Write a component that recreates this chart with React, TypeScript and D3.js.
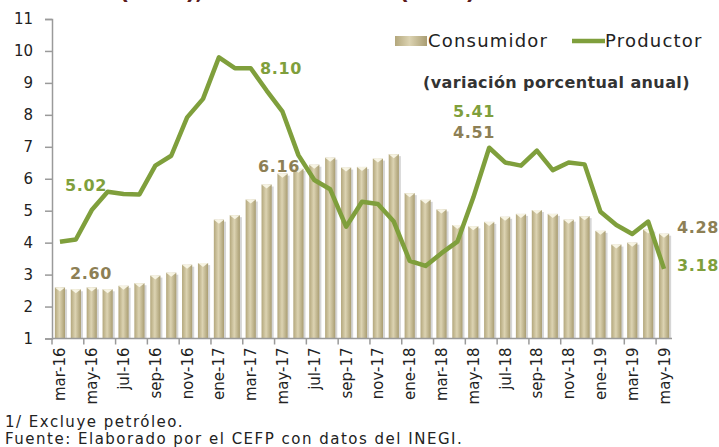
import React, { useEffect, useRef } from "react";
import * as d3 from "d3";

const months = [
  "mar-16", "abr-16", "may-16", "jun-16", "jul-16", "ago-16", "sep-16", "oct-16", "nov-16", "dic-16",
  "ene-17", "feb-17", "mar-17", "abr-17", "may-17", "jun-17", "jul-17", "ago-17", "sep-17", "oct-17",
  "nov-17", "dic-17", "ene-18", "feb-18", "mar-18", "abr-18", "may-18", "jun-18", "jul-18", "ago-18",
  "sep-18", "oct-18", "nov-18", "dic-18", "ene-19", "feb-19", "mar-19", "abr-19", "may-19",
];

const consumidor = [
  2.60, 2.54, 2.60, 2.54, 2.65, 2.73, 2.97, 3.06, 3.31, 3.36,
  4.72, 4.86, 5.35, 5.82, 6.16, 6.31, 6.44, 6.66, 6.35, 6.37,
  6.63, 6.77, 5.55, 5.34, 5.04, 4.55, 4.51, 4.65, 4.81, 4.90,
  5.02, 4.90, 4.72, 4.83, 4.37, 3.94, 4.00, 4.41, 4.28,
];

const productor = [
  4.03, 4.10, 5.02, 5.59, 5.52, 5.51, 6.41, 6.72, 7.92, 8.50,
  9.80, 9.46, 9.46, 8.76, 8.10, 6.74, 5.96, 5.67, 4.50, 5.28,
  5.21, 4.66, 3.43, 3.27, 3.67, 4.03, 5.41, 6.97, 6.51, 6.41,
  6.88, 6.27, 6.51, 6.45, 4.97, 4.55, 4.27, 4.66, 3.18,
];

const yTicks = [1, 2, 3, 4, 5, 6, 7, 8, 9, 10, 11];

// data labels: month index and where the text sits
const labelsConsumidor = [
  { i: 0, x: 70, y: 279 },
  { i: 14, x: 258, y: 172 },
  { i: 26, x: 453, y: 138 },
  { i: 38, x: 677, y: 233 },
];
const labelsProductor = [
  { i: 2, x: 65, y: 191 },
  { i: 14, x: 260, y: 74 },
  { i: 26, x: 453, y: 117 },
  { i: 38, x: 677, y: 271 },
];

const FONT = "'DejaVu Sans', sans-serif";
const GREEN = "#7f9f3c";
const KHAKI = "#8d7f55";

const App: React.FC = () => {
  const svgRef = useRef<SVGSVGElement | null>(null);

  useEffect(() => {
    const svg = d3.select(svgRef.current);
    svg.selectAll("*").remove();

    const x = d3
      .scaleBand<string>()
      .domain(months)
      .range([52, 672])
      .paddingInner(0.36)
      .paddingOuter(0.18);
    const y = d3.scaleLinear().domain([1, 11]).range([338.5, 19]);
    const step = x.step();
    const bw = x.bandwidth();

    const defs = svg.append("defs");
    const grad = defs
      .append("linearGradient")
      .attr("id", "barGrad")
      .attr("x1", "0%")
      .attr("x2", "100%");
    grad.append("stop").attr("offset", "0%").attr("stop-color", "#b3a77c");
    grad.append("stop").attr("offset", "45%").attr("stop-color", "#dcd3b2");
    grad.append("stop").attr("offset", "100%").attr("stop-color", "#a99d72");

    // title, cut at the top of the picture
    const title = svg
      .append("g")
      .attr("font-family", FONT)
      .attr("font-weight", "bold")
      .attr("font-size", 22)
      .attr("letter-spacing", -0.5)
      .attr("fill", "#5b1a1c");
    title
      .append("text")
      .attr("x", 203)
      .attr("y", -1)
      .attr("text-anchor", "end")
      .text("Precios al Consumidor (INPC),");
    title
      .append("text")
      .attr("x", 475)
      .attr("y", -1)
      .attr("text-anchor", "end")
      .text("Productor (INPP)");

    // bars
    const bars = svg.append("g");
    bars
      .selectAll("rect.shadow")
      .data(consumidor)
      .enter()
      .append("rect")
      .attr("x", (_, i) => (x(months[i]) as number) + 2)
      .attr("y", (d) => y(d) + 2)
      .attr("width", bw)
      .attr("height", (d) => y(1) - y(d) - 2)
      .attr("fill", "#8a8a8a")
      .attr("opacity", 0.35);
    bars
      .selectAll("rect.bar")
      .data(consumidor)
      .enter()
      .append("rect")
      .attr("x", (_, i) => x(months[i]) as number)
      .attr("y", (d) => y(d))
      .attr("width", bw)
      .attr("height", (d) => y(1) - y(d))
      .attr("fill", "url(#barGrad)");
    bars
      .selectAll("path.cap")
      .data(consumidor)
      .enter()
      .append("path")
      .attr("d", (d, i) => {
        const x0 = x(months[i]) as number;
        const t = y(d);
        return `M${x0},${t}L${x0 + bw},${t}L${x0 + bw / 2},${t + 4}Z`;
      })
      .attr("fill", "#fbf8ea")
      .attr("opacity", 0.9);

    // axes
    const axisColor = "#9a9a9a";
    const yAxis = svg
      .append("g")
      .attr("transform", "translate(52,0)")
      .call(d3.axisLeft(y).tickValues(yTicks).tickSize(7).tickPadding(12).tickFormat(d3.format("d")));
    yAxis.select(".domain").attr("stroke", axisColor).attr("stroke-width", 1.5);
    yAxis.selectAll(".tick line").attr("stroke", axisColor).attr("stroke-width", 1.5);
    yAxis
      .selectAll(".tick text")
      .attr("font-family", FONT)
      .attr("font-size", 15)
      .attr("fill", "#222");

    const xg = svg.append("g");
    xg.append("line")
      .attr("x1", 52)
      .attr("x2", 672)
      .attr("y1", y(1))
      .attr("y2", y(1))
      .attr("stroke", axisColor)
      .attr("stroke-width", 1.5);
    xg.selectAll("line.tick")
      .data(months.filter((_, i) => i % 2 === 0))
      .enter()
      .append("line")
      .attr("x1", (d) => (x(d) as number) - (step - bw) / 2)
      .attr("x2", (d) => (x(d) as number) - (step - bw) / 2)
      .attr("y1", y(1))
      .attr("y2", y(1) + 6)
      .attr("stroke", axisColor)
      .attr("stroke-width", 1.5);
    xg.selectAll("text")
      .data(months.filter((_, i) => i % 2 === 0))
      .enter()
      .append("text")
      .attr("transform", (d) => {
        const cx = (x(d) as number) + bw / 2 + 5.5;
        return `translate(${cx},${y(1) + 9}) rotate(-90)`;
      })
      .attr("text-anchor", "end")
      .attr("font-family", FONT)
      .attr("font-size", 15)
      .attr("fill", "#222")
      .text((d) => d);

    // line
    const line = d3
      .line<number>()
      .x((_, i) => (x(months[i]) as number) + bw / 2)
      .y((d) => y(d));
    svg
      .append("path")
      .datum(productor)
      .attr("d", line)
      .attr("fill", "none")
      .attr("stroke", GREEN)
      .attr("stroke-width", 4.5)
      .attr("stroke-linejoin", "round");

    // data labels
    const lab = svg
      .append("g")
      .attr("font-family", FONT)
      .attr("font-weight", "bold")
      .attr("font-size", 16)
      .attr("letter-spacing", 0.6);
    lab
      .selectAll("text.c")
      .data(labelsConsumidor)
      .enter()
      .append("text")
      .attr("x", (d) => d.x)
      .attr("y", (d) => d.y)
      .attr("fill", KHAKI)
      .text((d) => consumidor[d.i].toFixed(2));
    lab
      .selectAll("text.p")
      .data(labelsProductor)
      .enter()
      .append("text")
      .attr("x", (d) => d.x)
      .attr("y", (d) => d.y)
      .attr("fill", GREEN)
      .text((d) => productor[d.i].toFixed(2));

    // legend
    const lg = svg.append("g");
    lg.append("rect")
      .attr("x", 395)
      .attr("y", 36)
      .attr("width", 32)
      .attr("height", 10)
      .attr("fill", "url(#barGrad)");
    lg.append("text")
      .attr("x", 428)
      .attr("y", 47)
      .attr("font-family", FONT)
      .attr("font-size", 18)
      .attr("letter-spacing", 1.2)
      .attr("fill", "#222")
      .text("Consumidor");
    lg.append("line")
      .attr("x1", 572)
      .attr("x2", 605)
      .attr("y1", 41)
      .attr("y2", 41)
      .attr("stroke", GREEN)
      .attr("stroke-width", 4.5);
    lg.append("text")
      .attr("x", 605)
      .attr("y", 47)
      .attr("font-family", FONT)
      .attr("font-size", 18)
      .attr("letter-spacing", 1.2)
      .attr("fill", "#222")
      .text("Productor");

    svg
      .append("text")
      .attr("x", 423)
      .attr("y", 88)
      .attr("font-family", FONT)
      .attr("font-size", 16)
      .attr("letter-spacing", 0.4)
      .attr("font-weight", 600)
      .attr("fill", "#333")
      .text("(variación porcentual anual)");

    // footnotes
    const fn = svg
      .append("g")
      .attr("font-family", FONT)
      .attr("font-size", 15)
      .attr("letter-spacing", 1.5)
      .attr("fill", "#222");
    fn.append("text").attr("x", 5).attr("y", 427).text("1/ Excluye petróleo.");
    fn.append("text")
      .attr("x", 5)
      .attr("y", 444)
      .text("Fuente: Elaborado por el CEFP con datos del INEGI.");
  }, []);

  return (
    <svg
      ref={svgRef}
      width={719}
      height={447}
      style={{ position: "absolute", left: 0, top: 0, background: "#fff" }}
    ></svg>
  );
};

export default App;
